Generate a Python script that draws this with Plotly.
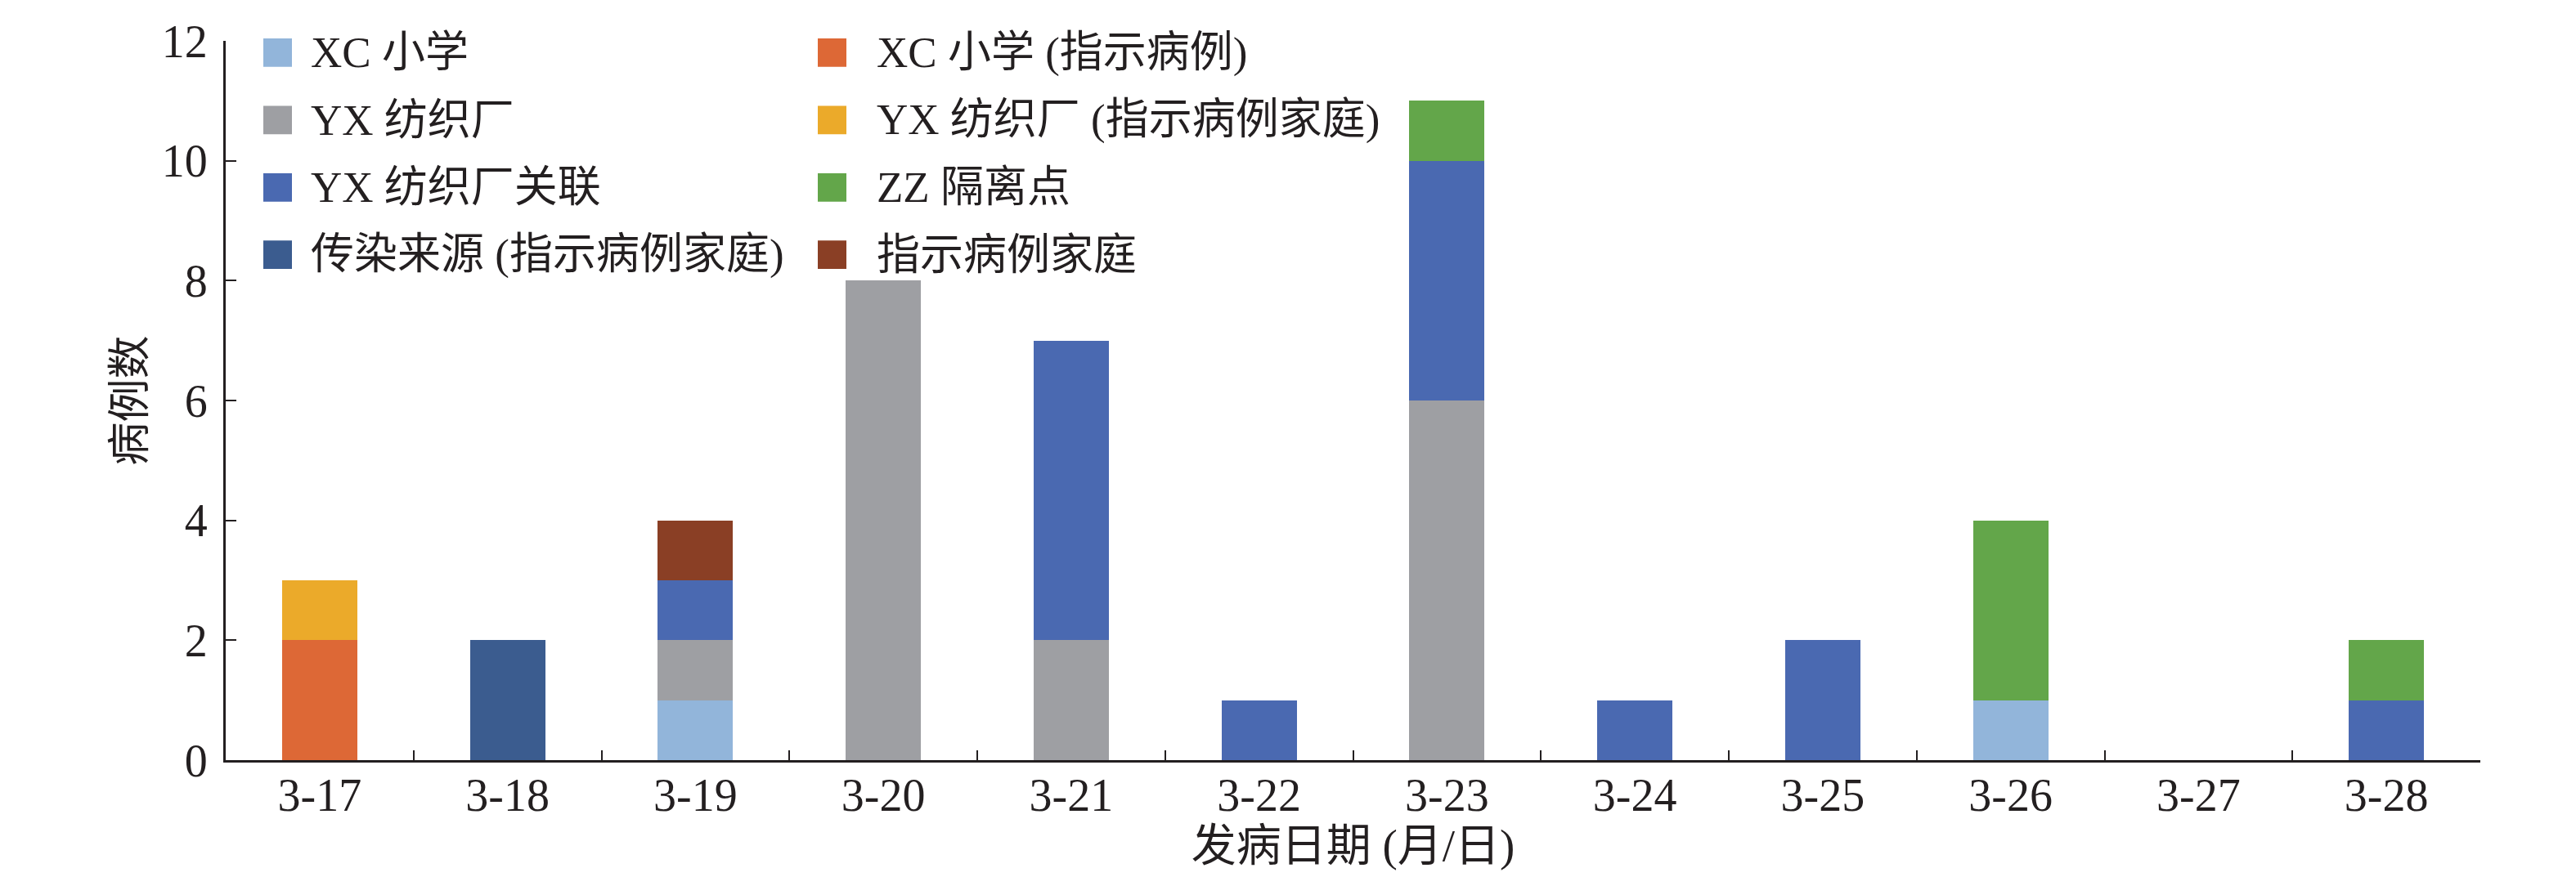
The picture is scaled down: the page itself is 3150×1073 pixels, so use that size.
import plotly.graph_objects as go

dates = ["3-17", "3-18", "3-19", "3-20", "3-21", "3-22", "3-23", "3-24", "3-25", "3-26", "3-27", "3-28"]

xc_school = [0, 0, 1, 0, 0, 0, 0, 0, 0, 1, 0, 0]
xc_school_index = [2, 0, 0, 0, 0, 0, 0, 0, 0, 0, 0, 0]
yx_factory = [0, 0, 1, 8, 2, 0, 6, 0, 0, 0, 0, 0]
yx_factory_index_family = [1, 0, 0, 0, 0, 0, 0, 0, 0, 0, 0, 0]
yx_factory_related = [0, 0, 1, 0, 5, 1, 4, 1, 2, 0, 0, 1]
zz_isolation = [0, 0, 0, 0, 0, 0, 1, 0, 0, 3, 0, 1]
source_index_family = [0, 2, 0, 0, 0, 0, 0, 0, 0, 0, 0, 0]
index_family = [0, 0, 1, 0, 0, 0, 0, 0, 0, 0, 0, 0]

series_names = ["XC 小学", "XC 小学 (指示病例)", "YX 纺织厂", "YX 纺织厂 (指示病例家庭)",
                "YX 纺织厂关联", "ZZ 隔离点", "传染来源 (指示病例家庭)", "指示病例家庭"]
series_values = [xc_school, xc_school_index, yx_factory, yx_factory_index_family,
                 yx_factory_related, zz_isolation, source_index_family, index_family]
colors = ["#92B5DA", "#DD6836", "#9E9FA3", "#EBAA2A", "#4A69B1", "#63A64A", "#3B5C8F", "#8A3F25"]

y_ticks = [0, 2, 4, 6, 8, 10, 12]

FONT = "Liberation Serif, Times New Roman, Noto Sans CJK SC, serif"
INK = "#231F20"

fig = go.Figure()
for name, vals, col in zip(series_names, series_values, colors):
    fig.add_trace(go.Bar(x=dates, y=vals, name=name, marker=dict(color=col, line=dict(width=0)),
                         showlegend=False))

W, H = 3150, 1073
L, R, T, B = 268, 125, 36, 151
pw, ph = W - L - R, H - T - B


def px_to_paper(px, py):
    return (px - L) / pw, (H - B - py) / ph


# manual legend (two columns, row-major order)
col_swatch_x = [314, 992]
col_text_x = [370, 1062]
row_centers = [50.5, 133.5, 216.5, 299.5]
sw = 35
shapes = []
annotations = []
for i, (name, col) in enumerate(zip(series_names, colors)):
    r, c = divmod(i, 2)
    x0, y0 = px_to_paper(col_swatch_x[c], row_centers[r] + sw / 2)
    x1, y1 = px_to_paper(col_swatch_x[c] + sw, row_centers[r] - sw / 2)
    shapes.append(dict(type="rect", xref="paper", yref="paper", x0=x0, x1=x1, y0=y0, y1=y1,
                       fillcolor=col, line=dict(width=0)))
    tx, ty = px_to_paper(col_text_x[c], row_centers[r])
    annotations.append(dict(xref="paper", yref="paper", x=tx, y=ty, xanchor="left", yanchor="middle",
                            text=name, showarrow=False, font=dict(family=FONT, size=53, color=INK)))

fig.update_layout(
    width=W, height=H,
    margin=dict(l=L, r=R, t=T, b=B, pad=0),
    paper_bgcolor="white", plot_bgcolor="white",
    barmode="stack", bargap=0.6,
    font=dict(family=FONT, color=INK, size=56),
    shapes=shapes, annotations=annotations,
    xaxis=dict(
        type="category", tickson="boundaries", ticks="inside", ticklen=12, tickwidth=2, tickcolor=INK,
        showline=True, linecolor=INK, linewidth=3, showgrid=False, zeroline=False,
        tickfont=dict(family=FONT, size=56, color=INK), ticklabelstandoff=-8,
        title=dict(text="发病日期 (月/日)", font=dict(family=FONT, size=55, color=INK), standoff=8),
    ),
    yaxis=dict(
        range=[0, 12], tickvals=y_ticks, ticks="inside", ticklen=13, tickwidth=2, tickcolor=INK,
        showline=True, linecolor=INK, linewidth=3, showgrid=False, zeroline=False,
        tickfont=dict(family=FONT, size=56, color=INK), ticklabelstandoff=8,
        title=dict(text="病例数", font=dict(family=FONT, size=53, color=INK), standoff=4),
    ),
)

fig.write_html("out.html")
